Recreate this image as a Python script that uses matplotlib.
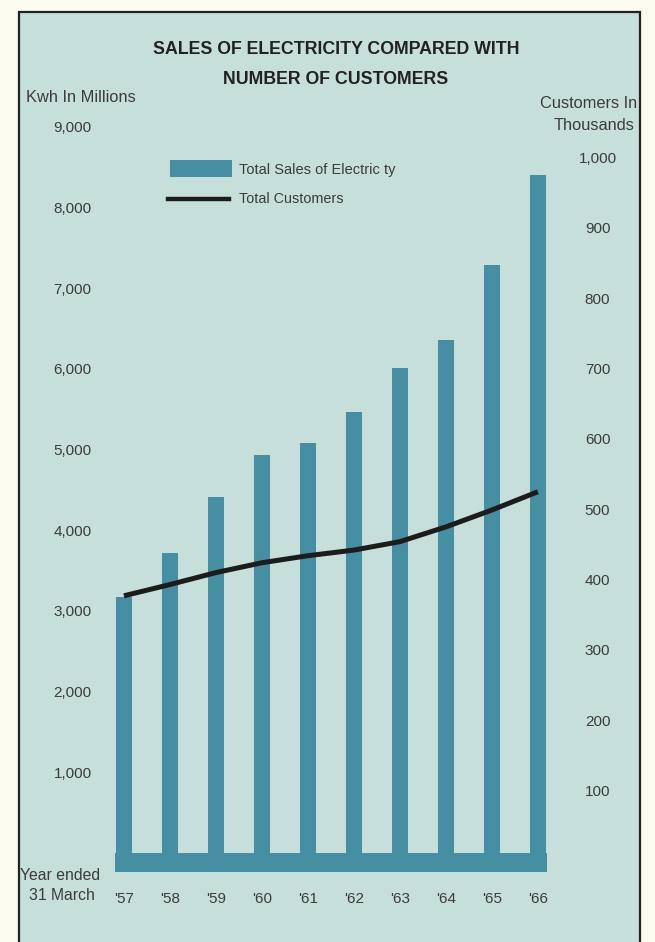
import numpy as np
import matplotlib.pyplot as plt
from matplotlib.patches import Rectangle

# ---- data ----
years = ["'57", "'58", "'59", "'60", "'61", "'62", "'63", "'64", "'65", "'66"]
sales_kwh_millions = [3170, 3720, 4410, 4930, 5080, 5470, 6010, 6360, 7290, 8400]
customers_thousands = [377, 393, 410, 424, 434, 442, 454, 475, 499, 525]

left_ticks = [1000, 2000, 3000, 4000, 5000, 6000, 7000, 8000, 9000]
right_ticks = [100, 200, 300, 400, 500, 600, 700, 800, 900, 1000]

# ---- colours ----
cream = "#fbfaee"
panel = "#c6dfdb"
bar_col = "#468ea1"
line_col = "#1c1c1c"
text_col = "#3c3c3c"

W, H = 655, 942
fig = plt.figure(figsize=(W / 100, H / 100), dpi=100, facecolor=cream)
plt.rcParams["font.family"] = ["Liberation Sans", "DejaVu Sans"]

# framed panel (kept behind the axes)
fig.patches.append(Rectangle((19 / W, -0.01), 621 / W, 1.0 - 12 / H + 0.01,
                             transform=fig.transFigure, facecolor=panel,
                             edgecolor="#222222", linewidth=1.6, zorder=-10))

ax = fig.add_axes([100 / W, 1 - 875 / H, 460 / W, 775 / H])
ax.set_facecolor("none")
x = np.arange(len(years))

# baseline strip under the bars
ax.add_patch(Rectangle((-0.2, -230), 9.4, 230, facecolor=bar_col, edgecolor="none", zorder=2))
ax.bar(x, sales_kwh_millions, width=0.35, color=bar_col, zorder=2)

ax.set_xlim(-0.52, 9.48)
ax.set_ylim(-273, 9330)
ax.set_xticks(x)
ax.set_xticklabels(years, fontsize=11, color=text_col)
ax.set_yticks(left_ticks)
ax.set_yticklabels([f"{v:,}" for v in left_ticks], fontsize=11, color=text_col)
ax.tick_params(axis="x", length=0, pad=12)
ax.tick_params(axis="y", length=0, pad=6)
for s in ax.spines.values():
    s.set_visible(False)

ax2 = ax.twinx()
ax2.set_facecolor("none")
ax2.plot(x, customers_thousands, color=line_col, linewidth=3.6,
         solid_capstyle="butt", zorder=3)
ax2.set_ylim(-20, 1082)
ax2.set_yticks(right_ticks)
ax2.set_yticklabels([f"{v:,}" for v in right_ticks], fontsize=11,
                    color=text_col, ha="center")
ax2.tick_params(axis="y", length=0, pad=27)
for s in ax2.spines.values():
    s.set_visible(False)

# titles and axis captions
fig.text(336 / W, 1 - 50 / H, "SALES OF ELECTRICITY COMPARED WITH", ha="center",
         va="center", fontsize=12.8, fontweight="bold", color="#222222")
fig.text(336 / W, 1 - 79 / H, "NUMBER OF CUSTOMERS", ha="center",
         va="center", fontsize=12.8, fontweight="bold", color="#222222")
fig.text(26 / W, 1 - 98 / H, "Kwh In Millions", ha="left", va="center",
         fontsize=11.8, color=text_col)
fig.text(637 / W, 1 - 104 / H, "Customers In", ha="right", va="center",
         fontsize=11.8, color=text_col)
fig.text(635 / W, 1 - 125 / H, "Thousands", ha="right", va="center",
         fontsize=11.8, color=text_col)
fig.text(100 / W, 1 - 876 / H, "Year ended", ha="right", va="center",
         fontsize=11.3, color=text_col)
fig.text(95 / W, 1 - 895 / H, "31 March", ha="right", va="center",
         fontsize=11.3, color=text_col)

# legend
fig.patches.append(Rectangle((170 / W, 1 - 177 / H), 62 / W, 17 / H,
                             transform=fig.transFigure, facecolor=bar_col,
                             edgecolor="none"))
fig.lines.append(plt.Line2D([168 / W, 229 / W], [1 - 199 / H, 1 - 199 / H],
                            transform=fig.transFigure, color=line_col, linewidth=3.2))
fig.text(239 / W, 1 - 170 / H, "Total Sales of Electric ty", ha="left",
         va="center", fontsize=10.5, color=text_col)
fig.text(239 / W, 1 - 199 / H, "Total Customers", ha="left",
         va="center", fontsize=10.4, color=text_col)

fig.savefig("out.png", dpi=100, facecolor=cream)
